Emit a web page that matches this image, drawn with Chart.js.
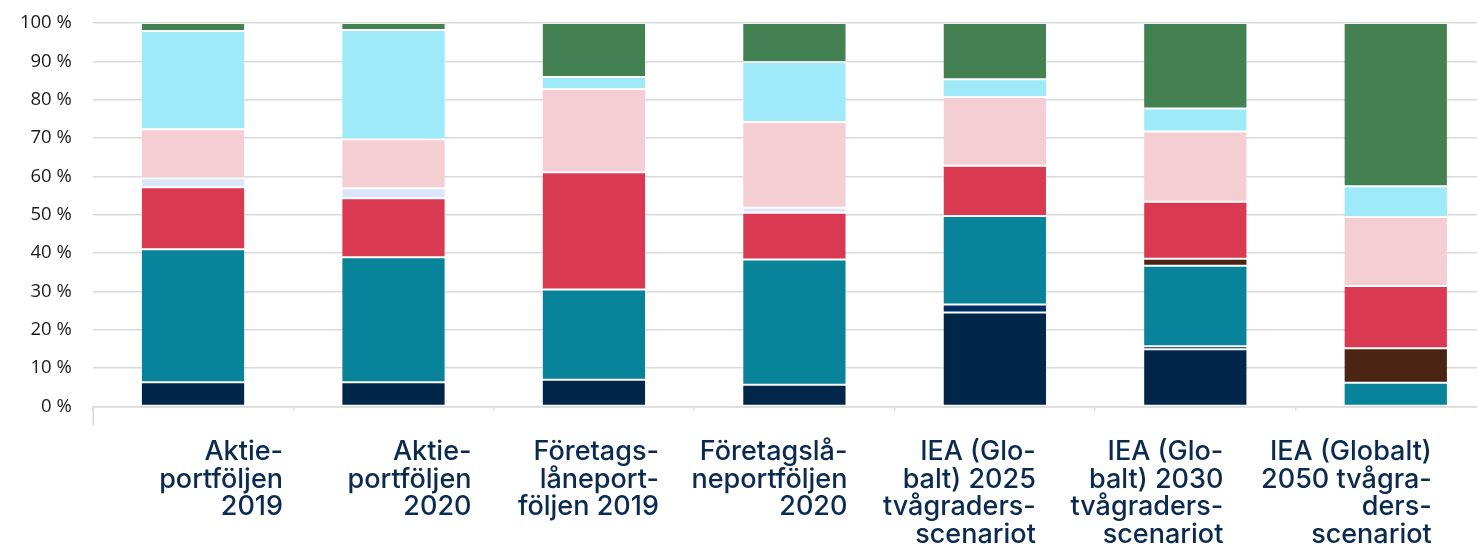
<!DOCTYPE html>
<html>
<head>
<meta charset="utf-8">
<script src="https://cdn.jsdelivr.net/npm/chart.js@4"></script>
<style>
  html, body { margin: 0; padding: 0; overflow: hidden; background: #fff; }
  #wrap { position: absolute; left: 0; top: 0; width: 1497px; height: 545px; }
</style>
</head>
<body>
<div id="wrap"><canvas id="chart"></canvas></div>
<script>
"use strict"

// categories (wrapped the way the source shows them)
const categories = [
	["Aktie-", "portföljen", "2019"],
	["Aktie-", "portföljen", "2020"],
	["Företags-", "låneport-", "följen 2019"],
	["Företagslå-", "neportföljen", "2020"],
	["IEA (Glo-", "balt) 2025", "tvågraders-", "scenariot"],
	["IEA (Glo-", "balt) 2030", "tvågraders-", "scenariot"],
	["IEA (Globalt)", "2050 tvågra-", "ders-", "scenariot"]
]

// shares in percent, stacked bottom to top
const serie1 = [6.3, 6.3, 7.0, 5.7, 24.5, 14.9, 0]
const serie2 = [0, 0, 0, 0, 2.1, 0.8, 0]
const serie3 = [34.7, 32.6, 23.5, 32.6, 23.1, 21.0, 6.2]
const serie4 = [0, 0, 0, 0, 0, 1.8, 9.0]
const serie5 = [16.2, 15.4, 30.6, 12.2, 13.1, 14.9, 16.2]
const serie6 = [2.3, 2.6, 0, 1.3, 0, 0, 0]
const serie7 = [12.8, 12.8, 21.7, 22.4, 17.9, 18.3, 18.0]
const serie8 = [25.6, 28.5, 3.1, 15.6, 4.6, 6.0, 8.0]
const serie9 = [2.1, 1.8, 14.1, 10.2, 14.7, 22.3, 42.6]

const yTicks = [0, 10, 20, 30, 40, 50, 60, 70, 80, 90, 100]

// how far right of the bar centre each label block ends
const labelShift = [90, 78, 65, 53, 41, 28, 36]

const colors = ["#00264a", "#002d62", "#088399", "#4a2513", "#d93a52", "#dce6fa", "#f5ced4", "#9eeaf9", "#438152"]
const series = [serie1, serie2, serie3, serie4, serie5, serie6, serie7, serie8, serie9]

const datasets = series.map(function (values, i) {
	return {
		label: "Serie " + (i + 1),
		data: values,
		backgroundColor: colors[i],
		borderColor: "rgba(255,255,255,0.25)",
		borderWidth: 1,
		borderSkipped: false,
		barPercentage: 0.52,
		categoryPercentage: 1
	}
})

const labelPlugin = {
	id: "wrappedLabels",
	afterDraw: function (chart) {
		const ctx = chart.ctx
		const xs = chart.scales.x
		const area = chart.chartArea
		ctx.save()
		// long left tick under the axis
		ctx.strokeStyle = "#d9d9d9"
		ctx.lineWidth = 1.5
		ctx.beginPath()
		ctx.moveTo(area.left + 0.5, area.bottom)
		ctx.lineTo(area.left + 0.5, area.bottom + 19)
		ctx.stroke()

		ctx.fillStyle = "#0a2a4f"
		ctx.font = "500 27px Inter"
		ctx.textAlign = "right"
		ctx.textBaseline = "alphabetic"
		categories.forEach(function (lines, i) {
			const x = xs.getPixelForValue(i) + labelShift[i]
			lines.forEach(function (line, j) {
				ctx.fillText(line, x, area.bottom + 53.5 + j * 27.7)
			})
		})
		ctx.restore()
	}
}

new Chart(document.getElementById("chart"), {
	type: "bar",
	data: {
		labels: categories.map(function (c) { return c.join(" ") }),
		datasets: datasets
	},
	options: {
		responsive: true,
		maintainAspectRatio: false,
		animation: false,
		layout: { padding: { top: 23, right: 1, left: 0, bottom: 0 } },
		plugins: {
			legend: { display: false },
			tooltip: { enabled: false }
		},
		scales: {
			x: {
				stacked: true,
				offset: true,
				grid: {
					offset: true,
					drawOnChartArea: false,
					color: "#d9d9d9",
					lineWidth: 1.5,
					tickLength: 4
				},
				border: { display: true, color: "#d9d9d9", width: 1.5 },
				ticks: { display: false },
				afterFit: function (scale) { scale.height = 138.5 }
			},
			y: {
				stacked: true,
				min: 0,
				max: 100,
				afterBuildTicks: function (scale) {
					scale.ticks = yTicks.map(function (v) { return { value: v } })
				},
				grid: { color: "#d9d9d9", lineWidth: 1.5, drawTicks: false },
				border: { display: false },
				ticks: {
					padding: 21,
					color: "#1a1a1a",
					font: { family: "Open Sans", size: 18.5 },
					callback: function (v) { return v + " %" }
				},
				afterFit: function (scale) {
					scale.width = 92.8
					scale.paddingTop = 0
					scale.paddingBottom = 0
				}
			}
		}
	},
	plugins: [labelPlugin]
})
</script>
</body>
</html>
